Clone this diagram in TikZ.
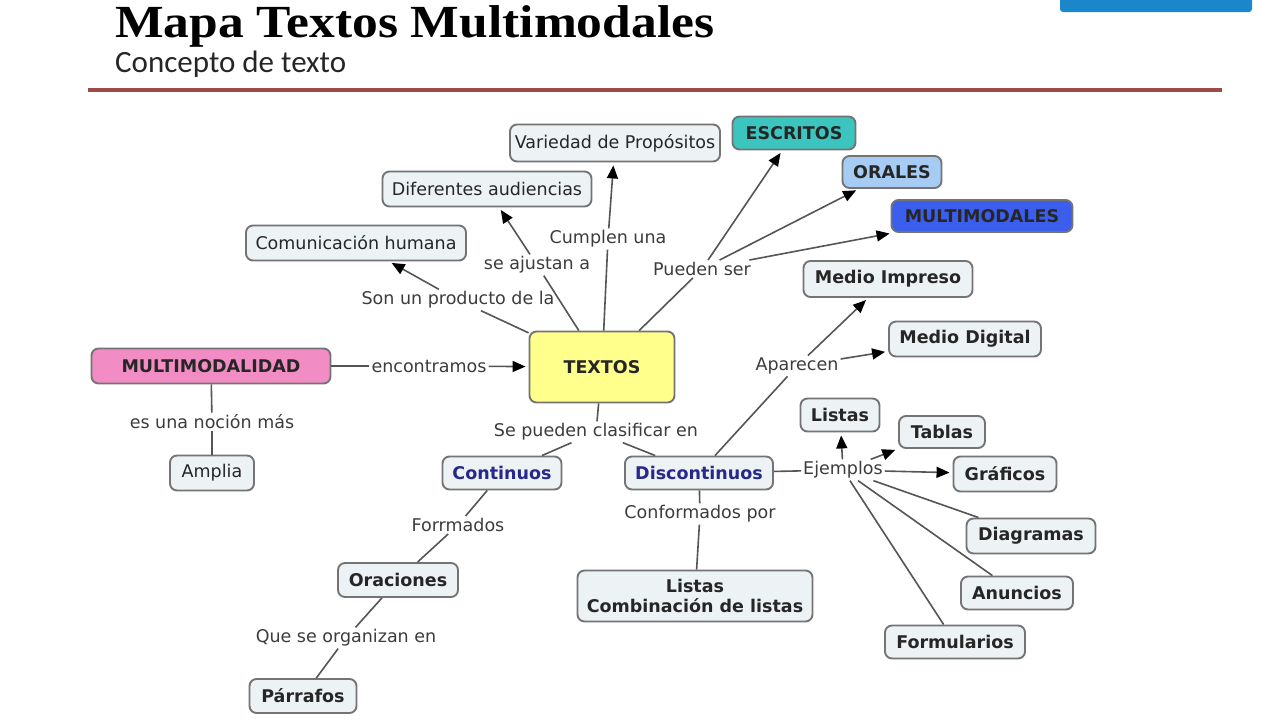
\documentclass[tikz,border=0pt]{standalone}
\usepackage{fontspec}
\setmainfont{DejaVu Sans}
\newfontfamily\titlefont[FakeStretch=1.12]{Liberation Serif}
\newfontfamily\subfont{Carlito}
\usetikzlibrary{arrows.meta,positioning,calc}

\definecolor{boxfill}{HTML}{EDF2F5}
\definecolor{boxline}{HTML}{747474}
\definecolor{linkgray}{HTML}{555555}
\definecolor{textgray}{HTML}{3C3C3C}
\definecolor{escritosfill}{HTML}{3CC4BE}
\definecolor{oralesfill}{HTML}{A6CCF4}
\definecolor{multifill}{HTML}{3C5EEC}
\definecolor{pinkfill}{HTML}{F28CC4}
\definecolor{yellowfill}{HTML}{FFFF8C}
\definecolor{bandred}{HTML}{9C4A4A}
\definecolor{btnblue}{HTML}{1B86C9}
\definecolor{navy}{HTML}{28288C}

\begin{document}
\begin{tikzpicture}[x=1pt, y=-1pt, >={Triangle[length=13pt,width=11pt,color=black]},
  concept/.style={draw=boxline, line width=1.9pt, fill=boxfill, rounded corners=7pt,
    inner sep=0pt, font=\fontsize{17.5}{20}\selectfont, text=black!85},
  bconcept/.style={concept, font=\fontsize{17.5}{20}\selectfont\bfseries},
  linkword/.style={font=\fontsize{17.5}{20}\selectfont, text=textgray, inner sep=2pt},
  con/.style={draw=linkgray, line width=1.6pt},
  arr/.style={con, ->, shorten >=3pt}]

\useasboundingbox (0,0) rectangle (1280,720);
\fill[white] (0,0) rectangle (1280,720);

% header
\node[anchor=base west, inner sep=0pt, font=\titlefont\fontsize{46}{50}\selectfont\bfseries] (title) at (115,37) {Mapa Textos Multimodales};
\node[anchor=base west, inner sep=0pt, font=\subfont\fontsize{31}{34}\selectfont, text=black!85] (subtitle) at (115,72) {Concepto de texto};
\fill[bandred] (88,88) rectangle (1222,92);
\fill[btnblue, rounded corners=3pt] (1060,-10) rectangle (1252,12);

% concepts
\node[concept, fill=yellowfill, minimum width=145pt, minimum height=71pt, font=\fontsize{17.5}{20}\selectfont\bfseries] (textos) at (602,367) {TEXTOS};
\node[concept, minimum width=210pt, minimum height=37pt] (varied) at (615,143) {Variedad de Propósitos};
\node[concept, minimum width=209pt, minimum height=35pt] (difaud) at (487,189) {Diferentes audiencias};
\node[concept, minimum width=220pt, minimum height=35pt] (comun) at (356,243) {Comunicación humana};
\node[bconcept, fill=escritosfill, minimum width=123pt, minimum height=33pt] (escritos) at (794,133) {ESCRITOS};
\node[bconcept, fill=oralesfill, minimum width=99pt, minimum height=32pt] (orales) at (892,172) {ORALES};
\node[bconcept, fill=multifill, minimum width=181pt, minimum height=32pt] (multi) at (982,216) {MULTIMODALES};
\node[bconcept, minimum width=169pt, minimum height=36pt] (impreso) at (888,279) {Medio Impreso};
\node[bconcept, minimum width=152pt, minimum height=35pt] (digital) at (965,339) {Medio Digital};
\node[bconcept, fill=pinkfill, minimum width=239pt, minimum height=35pt] (mmodal) at (211,366) {MULTIMODALIDAD};
\node[concept, minimum width=84pt, minimum height=35pt] (amplia) at (212,473) {Amplia};
\node[bconcept, text=navy, minimum width=119pt, minimum height=33pt] (contin) at (502,473) {Continuos};
\node[bconcept, text=navy, minimum width=148pt, minimum height=33pt] (discon) at (699,473) {Discontinuos};
\node[bconcept, minimum width=79pt, minimum height=33pt] (listas) at (840,415) {Listas};
\node[bconcept, minimum width=86pt, minimum height=32pt] (tablas) at (942,432) {Tablas};
\node[bconcept, minimum width=103pt, minimum height=35pt] (graficos) at (1005,474) {Gráficos};
\node[bconcept, minimum width=129pt, minimum height=35pt] (diagramas) at (1031,536) {Diagramas};
\node[bconcept, minimum width=112pt, minimum height=33pt] (anuncios) at (1017,593) {Anuncios};
\node[bconcept, minimum width=140pt, minimum height=33pt] (formul) at (955,642) {Formularios};
\node[bconcept, minimum width=120pt, minimum height=34pt] (oraciones) at (398,580) {Oraciones};
\node[bconcept, minimum width=107pt, minimum height=34pt] (parrafos) at (303,696) {Párrafos};
\node[bconcept, align=center, minimum width=235pt, minimum height=51pt] (listcomb) at (695,596) {Listas\\Combinación de listas};

% linking words
\node[linkword] (prod) at (458,300) {Son un producto de la};
\node[linkword] (ajust) at (537,265) {se ajustan a};
\node[linkword] (cumpl) at (608,239) {Cumplen una};
\node[linkword] (pueden) at (702,269) {Pueden ser};
\node[linkword] (encont) at (429,366) {encontramos};
\node[linkword] (nocion) at (212,422) {es una noción más};
\node[linkword] (clasif) at (596,432) {Se pueden clasificar en};
\node[linkword] (aparec) at (797,366) {Aparecen};
\node[linkword] (ejemp) at (843,470) {Ejemplos};
\node[linkword] (forrm) at (458,525) {Forrmados};
\node[linkword] (conform) at (700,514) {Conformados por};
\node[linkword] (organ) at (346,638) {Que se organizan en};

% connectors
\draw[con] (textos) -- (prod);
\draw[arr] (prod) -- (comun);
\draw[con] (textos) -- (ajust);
\draw[arr] (ajust) -- (difaud);
\draw[con] (textos) -- (cumpl);
\draw[arr] (cumpl) -- (varied);
\draw[con] (textos) -- (pueden);
\draw[arr] (pueden) -- (escritos);
\draw[arr] (pueden) -- (orales);
\draw[arr] (pueden) -- (multi);
\draw[con] (mmodal) -- (encont);
\draw[arr] (encont) -- (textos);
\draw[con] (mmodal) -- (nocion);
\draw[con] (nocion) -- (amplia);
\draw[con] (textos) -- (clasif);
\draw[con] (clasif) -- (contin);
\draw[con] (clasif) -- (discon);
\draw[con] (discon) -- (aparec);
\draw[arr] (aparec) -- (impreso);
\draw[arr] (aparec) -- (digital);
\draw[con] (discon) -- (ejemp);
\draw[arr] (ejemp) -- (listas);
\draw[arr] (ejemp) -- (tablas);
\draw[arr] (ejemp) -- (graficos);
\draw[con] (ejemp) -- (diagramas);
\draw[con] (ejemp) -- (anuncios);
\draw[con] (ejemp) -- (formul);
\draw[con] (discon) -- (conform);
\draw[con] (conform) -- (listcomb);
\draw[con] (contin) -- (forrm);
\draw[con] (forrm) -- (oraciones);
\draw[con] (oraciones) -- (organ);
\draw[con] (organ) -- (parrafos);
\end{tikzpicture}
\end{document}
